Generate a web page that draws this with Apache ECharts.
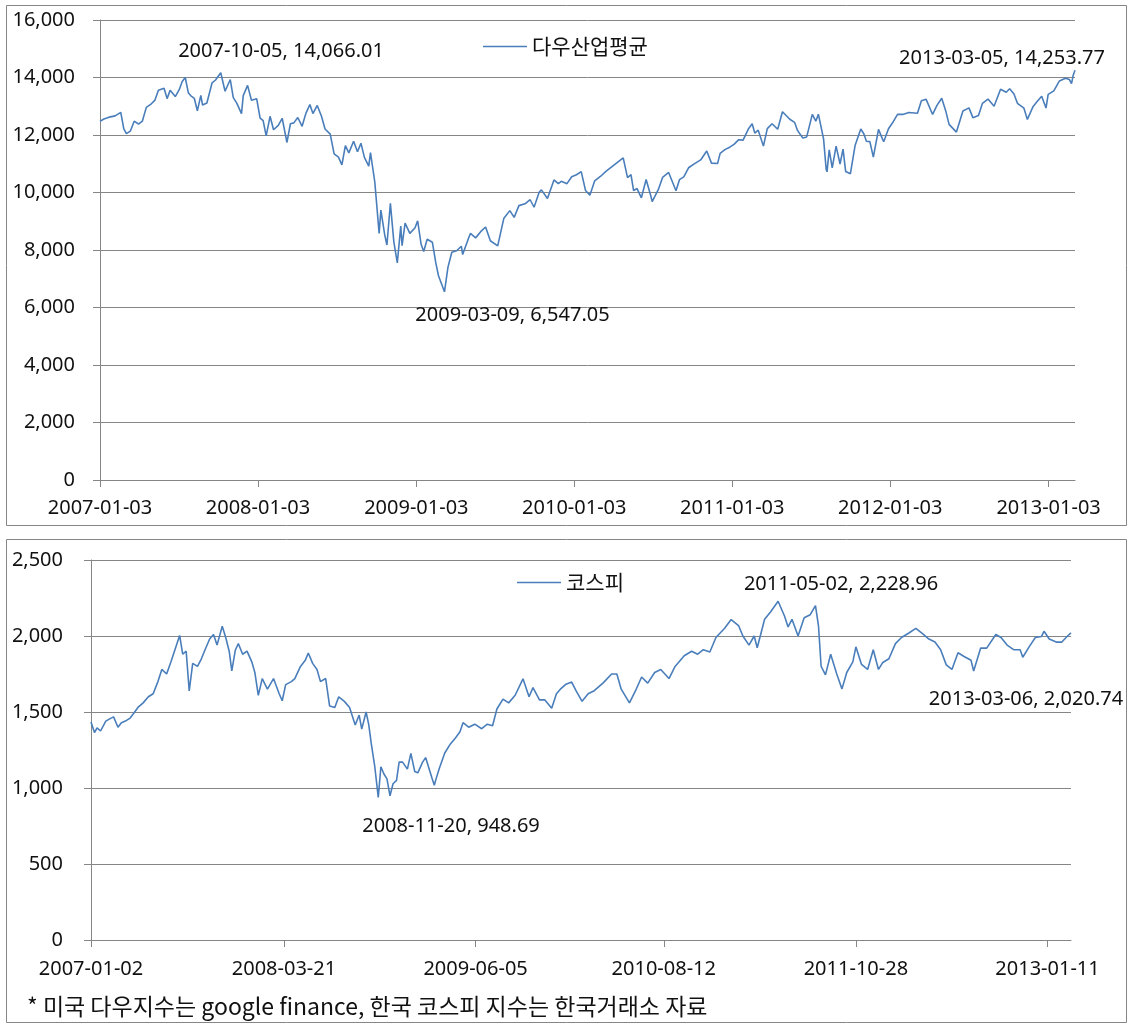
<!DOCTYPE html>
<html>
<head>
<meta charset="utf-8">
<script src="https://cdn.jsdelivr.net/npm/echarts@6/dist/echarts.min.js"></script>
<style>
html,body{margin:0;padding:0;background:#fff;}
#main{width:1133px;height:1028px;}
</style>
</head>
<body>
<div id="main"></div>
<script>
// ---------- Dow Jones Industrial Average (다우산업평균) ----------
const dowName = '다우산업평균';
const dowDates = [
'2007-01-03','2007-01-12','2007-01-24','2007-02-07','2007-02-20','2007-02-27','2007-03-05','2007-03-14','2007-03-23','2007-04-02','2007-04-11','2007-04-20','2007-04-30','2007-05-10','2007-05-18','2007-05-31','2007-06-07','2007-06-14','2007-06-26','2007-07-05','2007-07-12','2007-07-19','2007-07-26','2007-08-01','2007-08-09','2007-08-16','2007-08-24','2007-08-28','2007-09-07','2007-09-19','2007-09-27','2007-10-09','2007-10-19','2007-10-31','2007-11-07','2007-11-15','2007-11-26','2007-11-30','2007-12-10','2007-12-19','2007-12-31',
'2008-01-08','2008-01-15','2008-01-22','2008-01-31','2008-02-08','2008-02-19','2008-02-28','2008-03-10','2008-03-18','2008-03-26','2008-04-04','2008-04-14','2008-04-23','2008-05-02','2008-05-09','2008-05-19','2008-05-29','2008-06-06','2008-06-18','2008-06-27','2008-07-07','2008-07-15','2008-07-23','2008-07-31','2008-08-11','2008-08-20','2008-08-28','2008-09-05','2008-09-15','2008-09-19','2008-09-29','2008-10-03','2008-10-09','2008-10-13','2008-10-22','2008-10-27','2008-11-04','2008-11-12','2008-11-20','2008-11-28','2008-12-01','2008-12-08','2008-12-19','2008-12-31',
'2009-01-06','2009-01-14','2009-01-20','2009-01-28','2009-02-09','2009-02-17','2009-02-23','2009-03-09','2009-03-17','2009-03-26','2009-04-06','2009-04-17','2009-04-20','2009-05-04','2009-05-08','2009-05-20','2009-06-03','2009-06-12','2009-06-23','2009-07-10','2009-07-24','2009-08-07','2009-08-17','2009-08-28','2009-09-11','2009-09-23','2009-10-02','2009-10-14','2009-10-19','2009-11-02','2009-11-17','2009-11-27','2009-12-04','2009-12-17','2009-12-28',
'2010-01-08','2010-01-19','2010-01-29','2010-02-08','2010-02-19','2010-03-05','2010-03-17','2010-04-06','2010-04-26','2010-05-06','2010-05-14','2010-05-20','2010-05-28','2010-06-07','2010-06-18','2010-06-29','2010-07-02','2010-07-16','2010-07-26','2010-08-09','2010-08-26','2010-09-03','2010-09-13','2010-09-24','2010-10-08','2010-10-22','2010-11-05','2010-11-16','2010-11-30','2010-12-06','2010-12-17','2010-12-29',
'2011-01-07','2011-01-18','2011-01-28','2011-02-10','2011-02-18','2011-02-24','2011-03-04','2011-03-16','2011-03-25','2011-04-05','2011-04-18','2011-04-29','2011-05-16','2011-05-27','2011-06-03','2011-06-15','2011-06-24','2011-07-07','2011-07-15','2011-07-21','2011-08-02','2011-08-08','2011-08-10','2011-08-15','2011-08-22','2011-08-31','2011-09-09','2011-09-16','2011-09-22','2011-10-03','2011-10-14','2011-10-27','2011-11-03','2011-11-09','2011-11-17','2011-11-25','2011-12-07','2011-12-16','2011-12-19','2011-12-30',
'2012-01-10','2012-01-20','2012-02-01','2012-02-15','2012-03-06','2012-03-15','2012-03-26','2012-04-10','2012-04-20','2012-05-01','2012-05-10','2012-05-18','2012-06-04','2012-06-19','2012-07-03','2012-07-12','2012-07-25','2012-08-03','2012-08-16','2012-08-30','2012-09-14','2012-09-27','2012-10-05','2012-10-15','2012-10-23','2012-11-07','2012-11-15','2012-11-28','2012-12-07','2012-12-18','2012-12-28',
'2013-01-02','2013-01-15','2013-01-28','2013-02-11','2013-02-20','2013-02-25','2013-03-01','2013-03-05'
];
const dowValues = [
12474,12556,12621,12666,12786,12216,12050,12133,12481,12382,12484,12961,13063,13215,13556,13628,13266,13553,13337,13577,13861,14000,13473,13362,13270,12845,13378,13041,13113,13815,13913,14164,13522,13930,13300,13110,12743,13371,13727,13207,13264,
12589,12501,11971,12650,12182,12337,12582,11740,12392,12422,12609,12302,12763,13058,12745,13028,12646,12209,12029,11346,11231,10963,11632,11378,11782,11417,11715,11220,10917,11388,10365,10325,8579,9387,8519,8175,9625,8283,7552,8829,8149,8934,8579,8776,
9015,8200,7949,8375,8270,7552,7114,6547,7395,7924,7975,8131,7841,8426,8575,8422,8675,8799,8322,8146,9093,9370,9136,9544,9605,9748,9487,10016,10092,9789,10437,10310,10388,10308,10547,
10618,10725,10067,9908,10402,10566,10733,10970,11205,10520,10620,10068,10137,9816,10450,9870,9686,10097,10525,10698,10060,10447,10544,10860,11006,11133,11444,11023,11006,11362,11491,11585,
11674,11837,11823,12229,12391,12068,12169,11613,12220,12393,12201,12811,12548,12441,12151,11897,11934,12719,12479,12724,11866,10810,10719,11482,10854,11613,10992,11509,10733,10655,11644,12208,12044,11780,11770,11231,12196,11867,11766,12217,
12462,12720,12716,12780,12759,13194,13241,12715,13029,13279,12855,12369,12101,12837,12943,12604,12677,13096,13250,13000,13593,13485,13610,13425,13103,12933,12542,12985,13155,13350,12938,
13412,13535,13881,13971,13927,13784,14089,14253.77
];
const dowTickLabels = ['2007-01-03','2008-01-03','2009-01-03','2010-01-03','2011-01-03','2012-01-03','2013-01-03'];
const dowNotes = [
  {date:'2007-10-05', value:14066.01, text:'2007-10-05, 14,066.01'},
  {date:'2009-03-09', value:6547.05, text:'2009-03-09, 6,547.05'},
  {date:'2013-03-05', value:14253.77, text:'2013-03-05, 14,253.77'}
];

// ---------- KOSPI (코스피) ----------
const kospiName = '코스피';
const kospiDates = [
'2007-01-02','2007-01-10','2007-01-16','2007-01-24','2007-02-05','2007-02-14','2007-02-23','2007-03-05','2007-03-13','2007-03-22','2007-04-02','2007-04-10','2007-04-20','2007-05-02','2007-05-14','2007-05-25','2007-06-05','2007-06-14','2007-06-25','2007-07-05','2007-07-13','2007-07-25','2007-08-01','2007-08-09','2007-08-16','2007-08-24','2007-09-04','2007-09-13','2007-09-20','2007-10-02','2007-10-11','2007-10-19','2007-10-31','2007-11-08','2007-11-16','2007-11-22','2007-11-30','2007-12-07','2007-12-17','2007-12-27',
'2008-01-07','2008-01-14','2008-01-22','2008-01-31','2008-02-12','2008-02-26','2008-03-10','2008-03-17','2008-03-25','2008-04-07','2008-04-15','2008-04-28','2008-05-09','2008-05-16','2008-05-26','2008-06-05','2008-06-13','2008-06-25','2008-07-04','2008-07-16','2008-07-25','2008-08-07','2008-08-19','2008-09-01','2008-09-10','2008-09-16','2008-09-26','2008-10-02','2008-10-08','2008-10-16','2008-10-24','2008-10-30','2008-11-06','2008-11-13','2008-11-20','2008-11-27','2008-12-05','2008-12-11','2008-12-19','2008-12-30',
'2009-01-07','2009-01-16','2009-01-23','2009-02-03','2009-02-10','2009-02-24','2009-03-02','2009-03-06','2009-03-13','2009-03-26','2009-04-08','2009-04-20','2009-04-30','2009-05-07','2009-05-20','2009-06-03','2009-06-19','2009-07-02','2009-07-14','2009-07-24','2009-08-07','2009-08-20','2009-09-04','2009-09-22','2009-10-06','2009-10-15','2009-10-30','2009-11-11','2009-11-27','2009-12-08','2009-12-17','2009-12-30',
'2010-01-12','2010-01-22','2010-02-05','2010-02-19','2010-03-05','2010-03-25','2010-04-14','2010-04-26','2010-05-06','2010-05-25','2010-06-08','2010-06-22','2010-07-06','2010-07-22','2010-08-05','2010-08-24','2010-09-07','2010-09-28','2010-10-15','2010-10-29','2010-11-11','2010-11-26','2010-12-10','2010-12-30',
'2011-01-14','2011-01-31','2011-02-10','2011-02-24','2011-03-08','2011-03-15','2011-04-01','2011-04-15','2011-05-02','2011-05-17','2011-05-25','2011-06-03','2011-06-17','2011-07-01','2011-07-15','2011-07-27','2011-08-03','2011-08-09','2011-08-19','2011-08-31','2011-09-14','2011-09-26','2011-10-07','2011-10-21','2011-10-28','2011-11-10','2011-11-24','2011-12-07','2011-12-19','2011-12-29',
'2012-01-12','2012-01-27','2012-02-10','2012-02-27','2012-03-14','2012-03-30','2012-04-13','2012-04-27','2012-05-10','2012-05-23','2012-06-05','2012-06-19','2012-07-03','2012-07-19','2012-07-25','2012-08-10','2012-08-24','2012-09-14','2012-09-26','2012-10-10','2012-10-25','2012-11-09','2012-11-15','2012-11-30','2012-12-14','2012-12-28',
'2013-01-03','2013-01-15','2013-01-31','2013-02-13','2013-02-26','2013-03-06'
];
const kospiValues = [
1435,1365,1395,1375,1440,1455,1468,1400,1430,1440,1460,1490,1530,1560,1600,1620,1700,1780,1750,1830,1900,2004,1880,1900,1638,1820,1800,1850,1900,1980,2010,1940,2064,1990,1900,1770,1906,1950,1880,1900,
1830,1760,1609,1720,1650,1720,1620,1574,1680,1700,1720,1800,1840,1888,1820,1780,1700,1720,1540,1530,1600,1570,1530,1414,1480,1387,1500,1419,1290,1140,938,1140,1092,1060,948.69,1028,1050,1170,1170,1124,
1228,1108,1100,1170,1200,1070,1018,1060,1125,1230,1290,1330,1370,1430,1400,1420,1390,1420,1410,1520,1585,1560,1610,1718,1600,1660,1580,1580,1525,1620,1650,1683,
1697,1640,1570,1620,1640,1690,1750,1750,1650,1560,1640,1730,1690,1760,1780,1720,1800,1870,1900,1880,1910,1895,1990,2051,
2108,2069,2000,1940,2000,1923,2110,2160,2228.96,2130,2060,2110,2000,2120,2140,2200,2066,1801,1744,1880,1750,1652,1760,1830,1929,1813,1780,1910,1780,1826,
1850,1950,1990,2020,2050,2014,1980,1960,1910,1810,1780,1890,1865,1840,1770,1920,1920,2010,1990,1940,1910,1910,1860,1930,1990,1997,
2031,1980,1960,1960,2000,2020.74
];
const kospiTickLabels = ['2007-01-02','2008-03-21','2009-06-05','2010-08-12','2011-10-28','2013-01-11'];
const kospiNotes = [
  {date:'2011-05-02', value:2228.96, text:'2011-05-02, 2,228.96'},
  {date:'2008-11-20', value:948.69, text:'2008-11-20, 948.69'},
  {date:'2013-03-06', value:2020.74, text:'2013-03-06, 2,020.74'}
];
const footnote = '* 미국 다우지수는 google finance, 한국 코스피 지수는 한국거래소 자료';

// ---------- helpers ----------
const DAY = 86400000;
function toUTC(s){ const p = s.split('-').map(Number); return Date.UTC(p[0], p[1]-1, p[2]); }
function dayOffset(s, base){ return Math.round((toUTC(s) - toUTC(base)) / DAY); }
function fmtNum(v){ return Number(v).toLocaleString('en-US'); }

const dowBase = dowDates[0];
const kospiBase = kospiDates[0];
const dowData = dowDates.map((d,i)=>[dayOffset(d,dowBase), dowValues[i]]);
const kospiData = kospiDates.map((d,i)=>[dayOffset(d,kospiBase), kospiValues[i]]);
const dowTickVals = dowTickLabels.map(d=>dayOffset(d,dowBase));
const kospiTickVals = kospiTickLabels.map(d=>dayOffset(d,kospiBase));
const dowLabelMap = {}; dowTickVals.forEach((v,i)=>dowLabelMap[v]=dowTickLabels[i]);
const kospiLabelMap = {}; kospiTickVals.forEach((v,i)=>kospiLabelMap[v]=kospiTickLabels[i]);

const FONT = '"Noto Sans", "Noto Sans CJK KR", sans-serif';
const KFONT = '"Noto Sans CJK KR", "Noto Sans", sans-serif';
const AXIS_COLOR = '#868686';
const LINE_COLOR = '#4a7ebb';
const TXT = '#111';

// annotation offsets (label placement relative to the annotated point)
const dowOffsets = [[62,-24],[68,24],[-73,-12]];
const kospiOffsets = [[63,-17],[61,30],[-45,66]];

function xAxisCfg(gridIndex, max, tickVals, labelMap, margin){
  return {
    type:'value', gridIndex, min:0, max,
    axisLine:{show:true, lineStyle:{color:AXIS_COLOR, width:1}},
    axisTick:{show:true, length:7, customValues:tickVals, lineStyle:{color:AXIS_COLOR}},
    axisLabel:{customValues:tickVals, formatter:v=>labelMap[v]||'', color:TXT, fontSize:20, fontFamily:FONT, margin},
    splitLine:{show:false}
  };
}
function yAxisCfg(gridIndex, max, interval, margin){
  return {
    type:'value', gridIndex, min:0, max, interval,
    axisLine:{show:true, lineStyle:{color:AXIS_COLOR, width:1}},
    axisTick:{show:true, length:7, lineStyle:{color:AXIS_COLOR}},
    axisLabel:{formatter:v=>fmtNum(v), color:TXT, fontSize:20, fontFamily:FONT, margin},
    splitLine:{show:true, lineStyle:{color:AXIS_COLOR, width:1}}
  };
}
function notesMark(notes, base, offsets){
  return {
    symbol:'circle', symbolSize:0, silent:true,
    itemStyle:{color:'rgba(0,0,0,0)'},
    label:{show:true, position:'inside', color:TXT, fontSize:20, fontFamily:FONT},
    data: notes.map((n,i)=>({
      coord:[dayOffset(n.date, base), n.value],
      label:{formatter:n.text, offset:offsets[i]}
    }))
  };
}

const chart = echarts.init(document.getElementById('main'), null, {renderer:'canvas'});
chart.setOption({
  animation:false,
  backgroundColor:'#fff',
  graphic:[
    {type:'rect', shape:{x:6.5, y:5.5, width:1120, height:520}, style:{fill:'none', stroke:'#868686', lineWidth:1}},
    {type:'rect', shape:{x:6.5, y:539.5, width:1120, height:483}, style:{fill:'none', stroke:'#868686', lineWidth:1}},
    {type:'text', left:27, top:995, style:{text:footnote, fontSize:23, fontFamily:KFONT, fill:TXT}}
  ],
  legend:[
    {data:[dowName], left:478, top:31, itemWidth:44, itemHeight:1.5, icon:'rect', itemGap:6,
     textStyle:{fontSize:21, fontFamily:KFONT, color:TXT}},
    {data:[kospiName], left:512, top:567, itemWidth:44, itemHeight:1.5, icon:'rect', itemGap:6,
     textStyle:{fontSize:21, fontFamily:KFONT, color:TXT}}
  ],
  grid:[
    {left:100, right:58, top:20, bottom:548},
    {left:91, right:62, top:560, bottom:88}
  ],
  xAxis:[
    xAxisCfg(0, dayOffset('2013-03-05', dowBase), dowTickVals, dowLabelMap, 18),
    xAxisCfg(1, dayOffset('2013-03-06', kospiBase), kospiTickVals, kospiLabelMap, 19)
  ],
  yAxis:[
    yAxisCfg(0, 16000, 2000, 25),
    yAxisCfg(1, 2500, 500, 28)
  ],
  series:[
    {name:dowName, type:'line', xAxisIndex:0, yAxisIndex:0, data:dowData, symbol:'none',
     lineStyle:{color:LINE_COLOR, width:1.6}, itemStyle:{color:LINE_COLOR},
     markPoint:notesMark(dowNotes, dowBase, dowOffsets)},
    {name:kospiName, type:'line', xAxisIndex:1, yAxisIndex:1, data:kospiData, symbol:'none',
     lineStyle:{color:LINE_COLOR, width:1.6}, itemStyle:{color:LINE_COLOR},
     markPoint:notesMark(kospiNotes, kospiBase, kospiOffsets)}
  ]
});
</script>
</body>
</html>
